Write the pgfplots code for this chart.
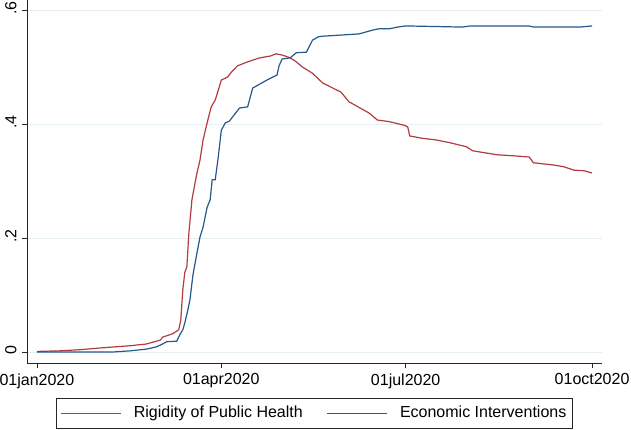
\documentclass[border=0pt]{standalone}
\usepackage{fontspec}
\setmainfont{Liberation Sans}
\usepackage{pgfplots}
\pgfplotsset{compat=1.18}
\usetikzlibrary{calc}
\definecolor{rred}{RGB}{180,58,66}
\definecolor{bblue}{RGB}{38,88,140}
\definecolor{gridc}{RGB}{228,239,242}
\begin{document}
\fontsize{16}{19}\selectfont
\begin{tikzpicture}
\begin{axis}[name=ax, scale only axis, width=575pt, height=363pt,
  xmin=-4.9, xmax=278.9, ymin=-0.0193, ymax=0.6175,
  axis x line*=bottom, axis y line*=left,
  axis line style={line width=0.8pt, color=black!85},
  xtick={0,91,182,274}, xticklabels={01jan2020,01apr2020,01jul2020,01oct2020},
  ytick={0,0.2,0.4,0.6}, yticklabels={0,.2,.4,.6},
  tick align=outside, major tick length=5pt,
  tick style={line width=0.8pt, color=black!85},
  ymajorgrids, grid style={gridc, line width=0.8pt},
  /pgf/number format/assume math mode=true,
  ticklabel style={font=\fontsize{16}{19}\selectfont},
  yticklabel style={rotate=90, anchor=south, xshift=2pt},
  legend style={at={(0.5,0)}, anchor=north, yshift=-35pt, legend columns=2,
    draw=black!85, line width=0.8pt, font=\fontsize{16}{19}\selectfont,
    inner xsep=4pt, inner ysep=6pt,
    /tikz/every odd column/.append style={column sep=10pt},
    /tikz/every even column/.append style={column sep=22pt}},
  legend image code/.code={\draw[#1] (0pt,0pt) -- (60pt,0pt);},
]
\addplot[rred, line width=1.2pt] coordinates {
(0,0.001) (11,0.002) (21,0.004) (31,0.007) (46,0.011) (54,0.014) (61,0.021) (62,0.026)
(67,0.032) (70,0.039) (71,0.056) (72,0.109) (73,0.140) (74,0.149) (75,0.209) (76.5,0.267)
(78,0.296) (79,0.314) (80.5,0.337) (82,0.372) (84,0.402) (86,0.430) (88,0.442) (90,0.465)
(91,0.477) (94,0.482) (96,0.491) (99,0.502) (104,0.509) (110,0.516) (115,0.519) (118,0.523)
(121,0.521) (125,0.516) (128,0.509) (131,0.500) (136,0.489) (141,0.472) (146,0.463) (150,0.456)
(154,0.439) (161,0.425) (164,0.419) (168,0.407) (174,0.404) (181,0.398) (183,0.395) (184,0.379)
(190,0.375) (197,0.372) (204,0.367) (212,0.360) (215,0.353) (227,0.346) (236,0.344) (243,0.342)
(245,0.332) (255,0.328) (260,0.325) (265,0.319) (270,0.318) (274,0.314)
};
\addlegendentry{Rigidity of Public Health}
\addplot[bblue, line width=1.2pt] coordinates {
(0,0.000) (37.5,0.000) (46,0.002) (54,0.005) (59,0.009) (62,0.014) (64,0.018) (69,0.019)
(70.5,0.030) (72,0.039) (73,0.051) (74.5,0.074) (75.5,0.091) (77,0.135) (79,0.174) (80.5,0.202)
(82,0.219) (84,0.254) (85.5,0.267) (86.5,0.302) (88,0.302) (89.5,0.342) (91,0.389) (93,0.402)
(95,0.405) (98,0.419) (100,0.428) (104,0.430) (106.5,0.463) (110,0.470) (113.5,0.477) (118.5,0.486)
(119.5,0.502) (121,0.514) (125,0.516) (128,0.525) (133,0.526) (136,0.547) (139,0.553) (141,0.554)
(150,0.556) (159,0.558) (166,0.565) (169,0.567) (174,0.567) (178,0.570) (182,0.572) (210,0.570)
(214,0.572) (243,0.572) (245,0.570) (268,0.570) (274,0.572)
};
\addlegendentry{Economic Interventions}
\end{axis}
\pgfresetboundingbox
\path ($(ax.south west)+(-27pt,-67pt)$) rectangle ($(ax.north east)+(29pt,0pt)$);
\end{tikzpicture}
\end{document}
